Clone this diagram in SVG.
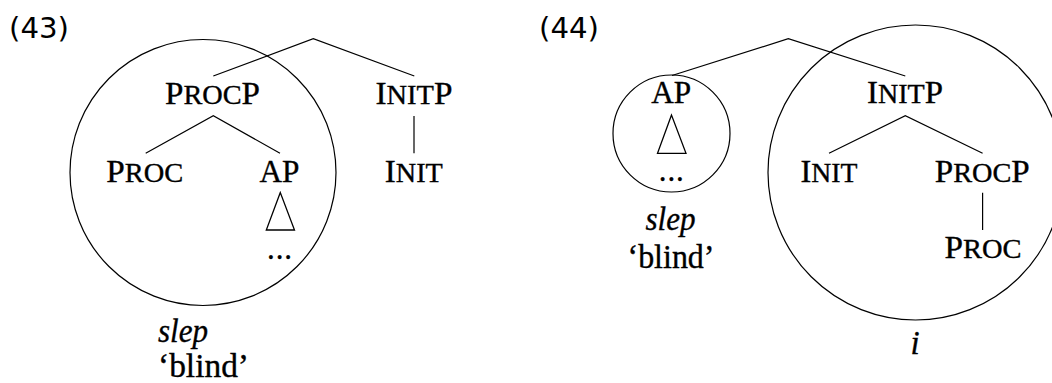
<svg xmlns="http://www.w3.org/2000/svg" width="1052" height="383" viewBox="0 0 1052 383">
<style>
.n{font-family:"Liberation Serif","Times New Roman",serif;font-size:31px;fill:#000;stroke:#000;stroke-width:0.35;text-anchor:middle}
.sc{font-size:26.5px}
.lc{font-size:33px}
.it{font-style:italic}
.lab{font-family:"DejaVu Sans","Noto Sans",sans-serif;font-size:29px;fill:#000}
.e{stroke:#000;stroke-width:1.2;fill:none}
.c{stroke:#000;stroke-width:1.2;fill:none}
.tri{stroke:#000;stroke-width:1.3;fill:#fff;stroke-linejoin:miter}
</style>
<rect width="1052" height="383" fill="#fff"/>
<text class="lab" x="9" y="38" textLength="60" lengthAdjust="spacingAndGlyphs">(43)</text>
<text class="lab" x="539" y="38" textLength="60" lengthAdjust="spacingAndGlyphs">(44)</text>

<g id="edges">
<polyline class="e" points="213.3,76 313.3,38.7 414.3,76"/>
<polyline class="e" points="145.7,153.3 213.3,115.7 280,153.3"/>
<line class="e" x1="414" y1="116" x2="414" y2="153.3"/>
<polyline class="e" points="672,75.5 788.3,38.7 905.3,76"/>
<polyline class="e" points="829,153.3 905.3,115.7 982.6,153.3"/>
<line class="e" x1="982.6" y1="192.7" x2="982.6" y2="230"/>
</g>

<g id="circle-left"><circle class="c" cx="203" cy="172.5" r="133"/></g>
<g id="circle-ap"><circle class="c" cx="671.5" cy="133.5" r="58.5"/></g>
<g id="circle-right"><circle class="c" cx="915.5" cy="172.5" r="147.5"/></g>

<g id="l-procp"><text class="n" x="212.5" y="104" textLength="95" lengthAdjust="spacingAndGlyphs">P<tspan class="sc">ROC</tspan>P</text></g>
<g id="l-initp"><text class="n" x="414" y="104" textLength="77" lengthAdjust="spacingAndGlyphs">I<tspan class="sc">NIT</tspan>P</text></g>
<g id="l-proc"><text class="n" x="144.7" y="182" textLength="77" lengthAdjust="spacingAndGlyphs">P<tspan class="sc">ROC</tspan></text></g>
<g id="l-ap"><text class="n" x="279.5" y="182" textLength="40" lengthAdjust="spacingAndGlyphs">AP</text>
<polygon class="tri" points="280.3,192.5 266.3,230 294.5,230"/>
<text class="n" x="279.5" y="258.5" textLength="25" lengthAdjust="spacing">...</text></g>
<g id="l-init"><text class="n" x="413.8" y="182" textLength="58" lengthAdjust="spacingAndGlyphs">I<tspan class="sc">NIT</tspan></text></g>
<g id="l-gloss"><text class="n it lc" x="158" y="342" style="text-anchor:start" textLength="50" lengthAdjust="spacingAndGlyphs">slep</text>
<text class="n lc" x="158" y="377" style="text-anchor:start" textLength="91" lengthAdjust="spacingAndGlyphs">‘blind’</text></g>

<g id="r-ap"><text class="n" x="671.2" y="103.3" textLength="40" lengthAdjust="spacingAndGlyphs">AP</text>
<polygon class="tri" points="671.5,115 657.5,153.3 686,153.3"/>
<text class="n" x="671.3" y="180.5" textLength="25" lengthAdjust="spacing">...</text></g>
<g id="r-gloss"><text class="n it lc" x="670.5" y="230" textLength="50" lengthAdjust="spacingAndGlyphs">slep</text>
<text class="n lc" x="671" y="268.3" textLength="87" lengthAdjust="spacingAndGlyphs">‘blind’</text></g>
<g id="r-initp"><text class="n" x="905" y="103.3" textLength="76" lengthAdjust="spacingAndGlyphs">I<tspan class="sc">NIT</tspan>P</text></g>
<g id="r-init"><text class="n" x="829" y="182" textLength="57" lengthAdjust="spacingAndGlyphs">I<tspan class="sc">NIT</tspan></text></g>
<g id="r-procp"><text class="n" x="982.3" y="182" textLength="95" lengthAdjust="spacingAndGlyphs">P<tspan class="sc">ROC</tspan>P</text></g>
<g id="r-proc"><text class="n" x="983" y="258" textLength="77" lengthAdjust="spacingAndGlyphs">P<tspan class="sc">ROC</tspan></text></g>
<g id="r-i"><text class="n it lc" x="915" y="354">i</text></g>
</svg>
